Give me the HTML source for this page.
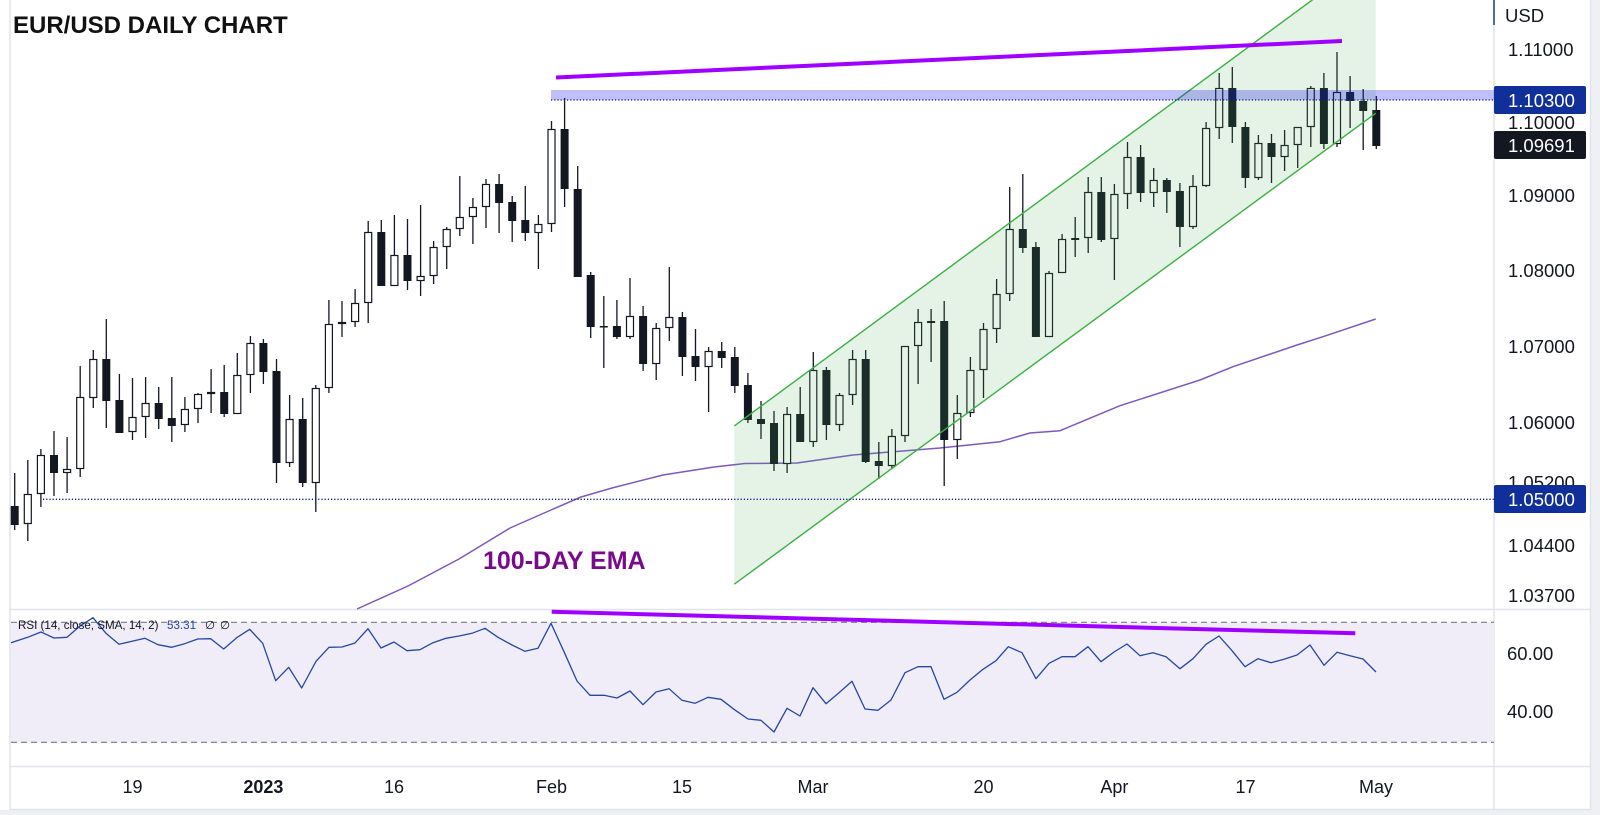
<!DOCTYPE html>
<html>
<head>
<meta charset="utf-8">
<style>
html,body{margin:0;padding:0;background:#fff;}
body{width:1600px;height:815px;overflow:hidden;position:relative;}
svg{position:absolute;left:0;top:0;}
text{font-family:"Liberation Sans",sans-serif;}
</style>
</head>
<body>
<svg width="1600" height="815" viewBox="0 0 1600 815" xmlns="http://www.w3.org/2000/svg">
<rect x="0" y="0" width="1600" height="815" fill="#ffffff"/>
<rect x="1591" y="0" width="9" height="815" fill="#eef0f4"/>
<rect x="0" y="810" width="1600" height="5" fill="#eef0f4"/>
<line x1="10" y1="0" x2="10" y2="810" stroke="#e0e3eb" stroke-width="1.5"/>
<line x1="1590.5" y1="0" x2="1590.5" y2="810" stroke="#e0e3eb" stroke-width="1.5"/>
<line x1="10" y1="809.5" x2="1591" y2="809.5" stroke="#e0e3eb" stroke-width="1.5"/>
<line x1="1494" y1="0" x2="1494" y2="810" stroke="#e0e3eb" stroke-width="1.5"/>
<line x1="1494" y1="0" x2="1494" y2="25" stroke="#1a3a9a" stroke-width="1.5"/>
<line x1="10" y1="609.5" x2="1591" y2="609.5" stroke="#e0e3eb" stroke-width="1.5"/>
<line x1="10" y1="766.5" x2="1591" y2="766.5" stroke="#e0e3eb" stroke-width="1.5"/>
<rect x="11" y="622.3" width="1483" height="120" fill="#f0edf8"/>
<line x1="11" y1="622.3" x2="1494" y2="622.3" stroke="#787b86" stroke-width="1.2" stroke-dasharray="6 4"/>
<line x1="11" y1="742.3" x2="1494" y2="742.3" stroke="#787b86" stroke-width="1.2" stroke-dasharray="6 4"/>
<polyline fill="none" stroke="#2447a8" stroke-width="1.3" stroke-linejoin="round" points="11,642.7 27.7,637.3 41,632 54,638 67,637.3 80,626 93,617.7 106,633.3 119,644.3 132,641.3 145,638.3 158,644.7 171.7,647.3 184.7,643.7 197.7,639 210.7,638.7 223.7,649 236.7,637.7 249.7,629.3 262.7,643.3 275.7,680.7 288.7,667.3 301.7,688 316,661.3 329,647.3 342,647 355,643 368,628.7 381,648 394,642 407,650.7 420,649.7 433,642.7 446,638.3 459,636 472,633.3 485,628.3 498,637.3 512,645 525,651.3 538,648.3 551,623.3 564,651.7 577,681 590,695.3 604,695.3 617,698 630,691 643,704.7 656,692 669,688.7 682,700.3 695,703.3 708,697.3 721,699.3 734,709.3 748,719 761,720.3 774,732 787,708.3 800,716 813,687.7 826,703.7 839,692.7 852,681.3 865,709 878,710.3 891,700 905,672.7 918,666.7 931,666.7 944,699.3 957,692.3 970,680 983,669.3 996,660.7 1008.3,646.7 1022,652.7 1036,678.7 1049,663.3 1062,656.7 1075,656.7 1088,646.7 1101,661.7 1114,652 1127,644 1140,655.7 1153,652.7 1166,656.7 1180,668.7 1193,658.7 1206,644.3 1219,636 1232,650.7 1245,666.7 1258,658.7 1271,662.7 1284,659.3 1297,655 1310,645 1324,665.3 1337,652.3 1350,655.7 1363,659 1376,672"/>
<line x1="551.7" y1="611.7" x2="1355.3" y2="633.3" stroke="#a000ff" stroke-width="4"/>
<text x="18" y="629" font-size="11.6" fill="#131722">RSI (14, close, SMA, 14, 2)</text>
<text x="167" y="629" font-size="11.6" fill="#2447a8">53.31</text>
<text x="205" y="629" font-size="11.6" fill="#131722">∅</text>
<text x="220" y="629" font-size="11.6" fill="#131722">∅</text>
<polyline fill="none" stroke="#7e57c2" stroke-width="1.5" stroke-linejoin="round" points="357,609 408,586 459,559 510,528 551,510 581,497 612,488 663,475 714,467 745,463.5 797,463 853,455 940,448 1000,441.7 1030,433 1060,430.7 1120,405.7 1200,380 1233,366.7 1297,345 1323,336.7 1375.7,319"/>
<path fill="none" stroke="#131722" stroke-width="1.3" d="M14.7 473V530M27.8 460V541M40.9 449V507M54 431V496M67.1 437V493M80.2 366V477M93.3 350V408M106.3 319V428M119.4 374V433M132.5 378V440M145.6 377V438M158.7 387V429M171.8 377V442M184.9 397V432M198 393V423M211.1 369V413M224.2 365V417M237.3 353V414M250.4 336V393M263.4 339V384M276.5 359V483M289.6 395V467M302.7 398V487M315.8 385V512M328.9 300V393M342 301V337M355.1 289V327M368.2 221V323M381.3 220V286M394.4 215V286M407.5 219V290M420.6 205V296M433.6 241V284M446.7 227V269M459.8 176V236M472.9 198V244M486 179V228M499.1 174V233M512.2 196V242M525.3 186V241M538.4 215V269M551.5 121V232M564.6 98V207M577.7 166V277M590.7 272V338M603.8 296V368M616.9 300V339M630 278V339M643.1 306V371M656.2 323V380M669.3 267V341M682.4 312V376M695.5 329V381M708.6 347V412M721.7 342V368M734.8 347V393M747.9 373V423M761 401V439M774 411V471M787.1 407V473M800.2 387V442M813.3 352V447M826.4 367V440M839.5 393V431M852.6 350V405M865.7 350V463M878.8 442V479M891.9 429V468M905 346V442M918.1 309V384M931.1 309V362M944.2 301V486M957.3 395V459M970.4 357V417M983.5 323V398M996.6 279V343M1009.7 187V301M1022.8 174V253M1035.9 242V337M1049 271V337M1062.1 234V273M1075.2 217V257M1088.2 177V253M1101.3 177V242M1114.4 184V280M1127.5 142V209M1140.6 145V202M1153.7 168V207M1166.8 178V213M1179.9 183V247M1193 175V229M1206.1 122V187M1219.2 73V139M1232.3 67V143M1245.4 122V188M1258.4 135V180M1271.5 134V183M1284.6 130V171M1297.7 127V168M1310.8 86V147M1323.9 73V149M1337 52V147M1350.1 76V128M1363.2 89V150M1376.3 96V149"/>
<g fill="#131722">
<rect x="10.7" y="506" width="8" height="19"/>
<rect x="50" y="455" width="8" height="18"/>
<rect x="102.3" y="359" width="8" height="42"/>
<rect x="115.4" y="400" width="8" height="33"/>
<rect x="154.7" y="403" width="8" height="16"/>
<rect x="167.8" y="418" width="8" height="8"/>
<rect x="220.2" y="392" width="8" height="22"/>
<rect x="259.4" y="343" width="8" height="29"/>
<rect x="272.5" y="371" width="8" height="92"/>
<rect x="298.7" y="419" width="8" height="64"/>
<rect x="377.3" y="232" width="8" height="54"/>
<rect x="403.5" y="255" width="8" height="26"/>
<rect x="495.1" y="184" width="8" height="19"/>
<rect x="508.2" y="202" width="8" height="19"/>
<rect x="521.3" y="220" width="8" height="13"/>
<rect x="560.6" y="129" width="8" height="60"/>
<rect x="573.7" y="189" width="8" height="88"/>
<rect x="586.7" y="275" width="8" height="52"/>
<rect x="599.8" y="326" width="8" height="1.5"/>
<rect x="612.9" y="326" width="8" height="11"/>
<rect x="639.1" y="316" width="8" height="48"/>
<rect x="678.4" y="317" width="8" height="40"/>
<rect x="691.5" y="356" width="8" height="11"/>
<rect x="717.7" y="351" width="8" height="7"/>
<rect x="730.8" y="357" width="8" height="29"/>
<rect x="743.9" y="385" width="8" height="35"/>
<rect x="757" y="419" width="8" height="5"/>
<rect x="770" y="423" width="8" height="41"/>
<rect x="796.2" y="414" width="8" height="28"/>
<rect x="822.4" y="370" width="8" height="55"/>
<rect x="861.7" y="359" width="8" height="103"/>
<rect x="874.8" y="461" width="8" height="5"/>
<rect x="927.1" y="321" width="8" height="2"/>
<rect x="940.2" y="321" width="8" height="119"/>
<rect x="1018.8" y="229" width="8" height="19"/>
<rect x="1031.9" y="247" width="8" height="90"/>
<rect x="1071.2" y="238" width="8" height="2"/>
<rect x="1097.3" y="192" width="8" height="48"/>
<rect x="1136.6" y="157" width="8" height="36"/>
<rect x="1162.8" y="180" width="8" height="12"/>
<rect x="1175.9" y="191" width="8" height="36"/>
<rect x="1228.3" y="88" width="8" height="39"/>
<rect x="1241.4" y="127" width="8" height="51"/>
<rect x="1267.5" y="143" width="8" height="14"/>
<rect x="1319.9" y="88" width="8" height="56"/>
<rect x="1346.1" y="92" width="8" height="9"/>
<rect x="1359.2" y="101" width="8" height="10"/>
<rect x="1372.3" y="110" width="8" height="36"/>
</g>
<g fill="#ffffff" stroke="#131722" stroke-width="1.2">
<rect x="24.3" y="494.5" width="7" height="29"/>
<rect x="37.4" y="455.5" width="7" height="38"/>
<rect x="63.6" y="469.5" width="7" height="3"/>
<rect x="76.7" y="397.5" width="7" height="71"/>
<rect x="89.8" y="359.5" width="7" height="38"/>
<rect x="129" y="417.5" width="7" height="14"/>
<rect x="142.1" y="403.5" width="7" height="13"/>
<rect x="181.4" y="409.5" width="7" height="15"/>
<rect x="194.5" y="394.5" width="7" height="14"/>
<rect x="207.6" y="392.5" width="7" height="1"/>
<rect x="233.8" y="375.5" width="7" height="38"/>
<rect x="246.9" y="343.5" width="7" height="31"/>
<rect x="286.1" y="419.5" width="7" height="43"/>
<rect x="312.3" y="388.5" width="7" height="94"/>
<rect x="325.4" y="324.5" width="7" height="63"/>
<rect x="338.5" y="322.5" width="7" height="1"/>
<rect x="351.6" y="303.5" width="7" height="18"/>
<rect x="364.7" y="232.5" width="7" height="70"/>
<rect x="390.9" y="255.5" width="7" height="30"/>
<rect x="417.1" y="276.5" width="7" height="4"/>
<rect x="430.1" y="247.5" width="7" height="28"/>
<rect x="443.2" y="229.5" width="7" height="17"/>
<rect x="456.3" y="217.5" width="7" height="11"/>
<rect x="469.4" y="207.5" width="7" height="9"/>
<rect x="482.5" y="184.5" width="7" height="22"/>
<rect x="534.9" y="224.5" width="7" height="8"/>
<rect x="548" y="129.5" width="7" height="94"/>
<rect x="626.5" y="316.5" width="7" height="20"/>
<rect x="652.7" y="328.5" width="7" height="35"/>
<rect x="665.8" y="317.5" width="7" height="10"/>
<rect x="705.1" y="351.5" width="7" height="15"/>
<rect x="783.6" y="414.5" width="7" height="49"/>
<rect x="809.8" y="370.5" width="7" height="71"/>
<rect x="836" y="395.5" width="7" height="29"/>
<rect x="849.1" y="359.5" width="7" height="35"/>
<rect x="888.4" y="436.5" width="7" height="29"/>
<rect x="901.5" y="346.5" width="7" height="89"/>
<rect x="914.6" y="322.5" width="7" height="23"/>
<rect x="953.8" y="413.5" width="7" height="26"/>
<rect x="966.9" y="370.5" width="7" height="42"/>
<rect x="980" y="329.5" width="7" height="40"/>
<rect x="993.1" y="294.5" width="7" height="34"/>
<rect x="1006.2" y="229.5" width="7" height="64"/>
<rect x="1045.5" y="273.5" width="7" height="63"/>
<rect x="1058.6" y="239.5" width="7" height="33"/>
<rect x="1084.7" y="192.5" width="7" height="45"/>
<rect x="1110.9" y="194.5" width="7" height="44"/>
<rect x="1124" y="157.5" width="7" height="36"/>
<rect x="1150.2" y="180.5" width="7" height="12"/>
<rect x="1189.5" y="186.5" width="7" height="40"/>
<rect x="1202.6" y="128.5" width="7" height="57"/>
<rect x="1215.7" y="88.5" width="7" height="39"/>
<rect x="1254.9" y="143.5" width="7" height="34"/>
<rect x="1281.1" y="145.5" width="7" height="11"/>
<rect x="1294.2" y="127.5" width="7" height="17"/>
<rect x="1307.3" y="88.5" width="7" height="38"/>
<rect x="1333.5" y="92.5" width="7" height="51"/>
</g>
<polygon points="734.3,425.9 1375.7,-46.8 1375.7,113.3 734.3,584.2" fill="rgba(76,175,80,0.15)"/>
<line x1="734.3" y1="425.9" x2="1375.7" y2="-46.8" stroke="#3cb043" stroke-width="1.4"/>
<line x1="734.3" y1="584.2" x2="1375.7" y2="113.3" stroke="#3cb043" stroke-width="1.4"/>
<rect x="551" y="90" width="943" height="10" fill="rgba(0,0,230,0.25)"/>
<line x1="551" y1="100" x2="1494" y2="100" stroke="#0d1b8a" stroke-width="1.3" stroke-dasharray="1.2 2"/>
<line x1="43" y1="499.3" x2="1494" y2="499.3" stroke="#0d1b8a" stroke-width="1.3" stroke-dasharray="1.2 2"/>
<line x1="556" y1="77.5" x2="1342" y2="41" stroke="#a000ff" stroke-width="4"/>
<text x="13" y="33" font-size="24" font-weight="bold" fill="#111111">EUR/USD DAILY CHART</text>
<text x="483" y="569" font-size="25" font-weight="bold" fill="#7a0a8c">100-DAY EMA</text>
<g font-size="18.5" fill="#131722">
<text x="1505" y="22">USD</text>
<text x="1508" y="56">1.11000</text>
<text x="1508" y="129">1.10000</text>
<text x="1508" y="202">1.09000</text>
<text x="1508" y="277">1.08000</text>
<text x="1508" y="353">1.07000</text>
<text x="1508" y="429">1.06000</text>
<text x="1508" y="489">1.05200</text>
<text x="1508" y="552">1.04400</text>
<text x="1508" y="602">1.03700</text>
<text x="1507" y="660">60.00</text>
<text x="1507" y="718">40.00</text>
</g>
<rect x="1494" y="86" width="92" height="28" rx="2" fill="#102f9a"/>
<text x="1508" y="107" font-size="18.5" fill="#ffffff">1.10300</text>
<rect x="1494" y="131" width="92" height="28" rx="2" fill="#131722"/>
<text x="1508" y="152" font-size="18.5" fill="#ffffff">1.09691</text>
<rect x="1494" y="485" width="92" height="28" rx="2" fill="#102f9a"/>
<text x="1508" y="506" font-size="18.5" fill="#ffffff">1.05000</text>
<g font-size="18" fill="#131722" text-anchor="middle">
<text x="132.5" y="793">19</text>
<text x="263.4" y="793" font-weight="bold">2023</text>
<text x="394" y="793">16</text>
<text x="551.5" y="793">Feb</text>
<text x="682" y="793">15</text>
<text x="813" y="793">Mar</text>
<text x="983.5" y="793">20</text>
<text x="1114.4" y="793">Apr</text>
<text x="1245.5" y="793">17</text>
<text x="1376" y="793">May</text>
</g>
</svg>
</body>
</html>
